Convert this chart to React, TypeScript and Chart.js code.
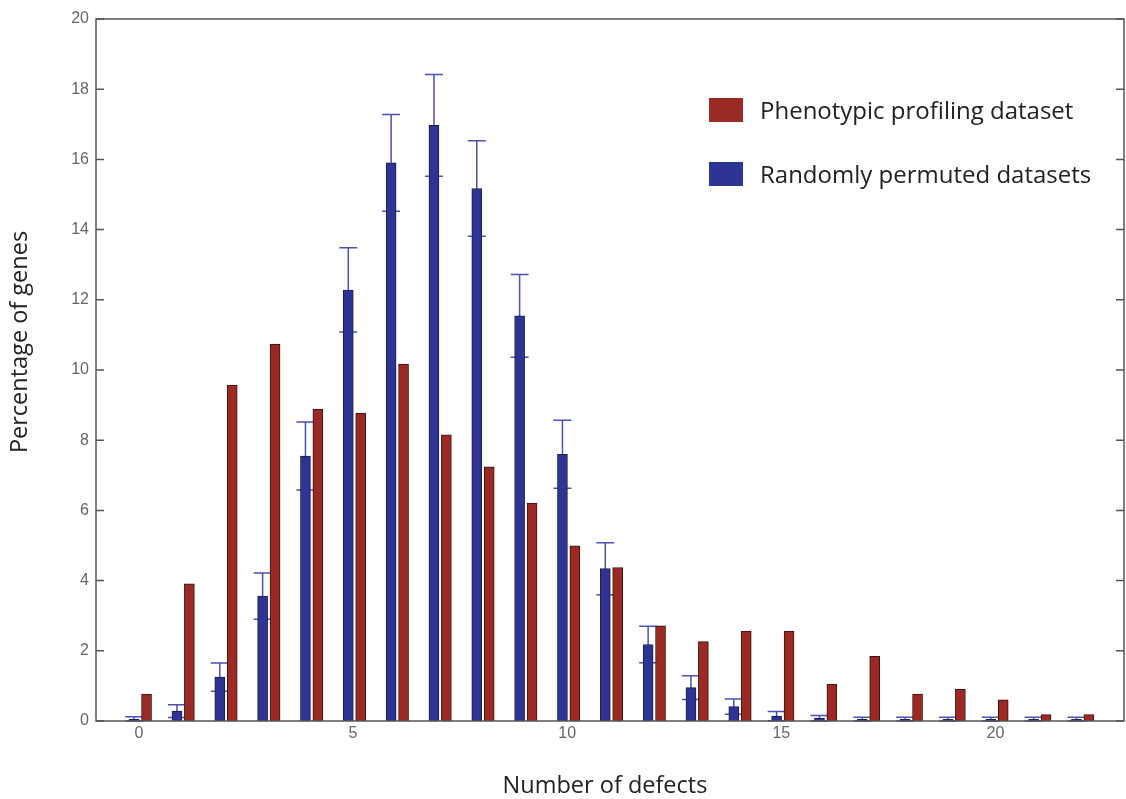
import React, { useEffect, useRef } from "react";
import { Chart, registerables } from "chart.js";

Chart.register(...registerables);

const defects = [0, 1, 2, 3, 4, 5, 6, 7, 8, 9, 10, 11, 12, 13, 14, 15, 16, 17, 18, 19, 20, 21, 22];
const phenotypic = [0.77, 3.91, 9.57, 10.74, 8.89, 8.77, 10.17, 8.15, 7.24, 6.21, 4.99, 4.37, 2.71, 2.26, 2.56, 2.56, 1.05, 1.84, 0.77, 0.91, 0.6, 0.18, 0.18];
const permuted = [0.05, 0.28, 1.25, 3.56, 7.55, 12.28, 15.9, 16.97, 15.17, 11.54, 7.6, 4.34, 2.18, 0.95, 0.41, 0.14, 0.08, 0.05, 0.05, 0.05, 0.05, 0.05, 0.05];
const permutedErr = [0.07, 0.18, 0.4, 0.66, 0.97, 1.2, 1.38, 1.45, 1.36, 1.18, 0.97, 0.74, 0.52, 0.34, 0.22, 0.13, 0.08, 0.06, 0.06, 0.06, 0.06, 0.06, 0.06];
const xTicks = [0, 5, 10, 15, 20];
const yTicks = [0, 2, 4, 6, 8, 10, 12, 14, 16, 18, 20];

const labels = {
  phenotypic: "Phenotypic profiling dataset",
  permuted: "Randomly permuted datasets",
  x: "Number of defects",
  y: "Percentage of genes",
};

const RED = "#9b2a24";
const BLUE = "#2e3494";
const ERR = "#4d52b4";
const AXIS = "#555555";
const BLUE_OFFSET = -0.11;
const RED_OFFSET = 0.18;
const TITLE_FONT = "23.5px 'Open Sans'";
const LEGEND_FONT = "24px 'Open Sans'";

const errorBarPlugin = {
  id: "errorBars",
  beforeDatasetsDraw(chart: any) {
    const { ctx, scales } = chart;
    const x = scales.x;
    const y = scales.y;
    ctx.save();
    ctx.strokeStyle = ERR;
    ctx.lineWidth = 1.5;
    defects.forEach((d, i) => {
      const px = x.getPixelForValue(d + BLUE_OFFSET);
      const top = y.getPixelForValue(permuted[i] + permutedErr[i]);
      const bot = y.getPixelForValue(Math.max(0, permuted[i] - permutedErr[i]));
      ctx.beginPath();
      ctx.moveTo(px, top);
      ctx.lineTo(px, bot);
      ctx.moveTo(px - 9, top);
      ctx.lineTo(px + 9, top);
      ctx.moveTo(px - 9, bot);
      ctx.lineTo(px + 9, bot);
      ctx.stroke();
    });
    ctx.restore();
  },
};

const framePlugin = {
  id: "frame",
  afterDatasetsDraw(chart: any) {
    const { ctx, chartArea, scales } = chart;
    const { left, top, right, bottom } = chartArea;
    ctx.save();
    ctx.strokeStyle = AXIS;
    ctx.lineWidth = 1.5;
    ctx.strokeRect(left, top, right - left, bottom - top);
    ctx.beginPath();
    yTicks.forEach((v) => {
      const py = scales.y.getPixelForValue(v);
      ctx.moveTo(left, py);
      ctx.lineTo(left + 8, py);
      ctx.moveTo(right, py);
      ctx.lineTo(right - 8, py);
    });
    ctx.stroke();
    ctx.restore();
  },
  afterDraw(chart: any) {
    const { ctx } = chart;
    ctx.save();
    ctx.fillStyle = "#222222";
    ctx.font = TITLE_FONT;
    ctx.textAlign = "center";
    ctx.textBaseline = "alphabetic";
    ctx.fillText(labels.x, 605, 793);
    ctx.save();
    ctx.translate(27, 342);
    ctx.rotate(-Math.PI / 2);
    ctx.fillText(labels.y, 0, 0);
    ctx.restore();

    // legend
    ctx.font = LEGEND_FONT;
    const items = [
      { text: labels.phenotypic, color: RED, y: 98 },
      { text: labels.permuted, color: BLUE, y: 162 },
    ];
    items.forEach((it) => {
      ctx.fillStyle = it.color;
      ctx.fillRect(709, it.y, 34, 24);
      ctx.fillStyle = "#222222";
      ctx.textAlign = "left";
      ctx.fillText(it.text, 760, it.y + 21);
    });
    ctx.restore();
  },
};

export default function App() {
  const ref = useRef<HTMLCanvasElement | null>(null);

  useEffect(() => {
    if (!ref.current) return;
    const chart = new Chart(ref.current, {
      type: "bar",
      data: {
        datasets: [
          {
            label: labels.permuted,
            data: defects.map((d, i) => ({ x: d + BLUE_OFFSET, y: permuted[i] })),
            backgroundColor: BLUE,
            borderColor: "#1b1d4a",
            borderWidth: 1,
          },
          {
            label: labels.phenotypic,
            data: defects.map((d, i) => ({ x: d + RED_OFFSET, y: phenotypic[i] })),
            backgroundColor: RED,
            borderColor: "#3a1210",
            borderWidth: 1,
          },
        ],
      },
      options: {
        responsive: false,
        animation: false,
        grouped: false,
        barPercentage: 1,
        categoryPercentage: 1,
        maxBarThickness: 10,
        layout: { padding: { left: 0, top: 19, right: 2, bottom: 0 } },
        plugins: { legend: { display: false }, tooltip: { enabled: false } },
        scales: {
          x: {
            type: "linear",
            min: -1,
            max: 23,
            offset: false,
            grid: { display: false, drawTicks: false, offset: false },
            border: { display: false },
            afterBuildTicks: (scale: any) => {
              scale.ticks = xTicks.map((v) => ({ value: v }));
            },
            afterFit: (scale: any) => {
              scale.height = 78;
            },
            ticks: {
              padding: 3,
              color: "#666666",
              font: { family: "'Liberation Sans'", size: 16 },
            },
          },
          y: {
            type: "linear",
            min: 0,
            max: 20,
            grid: { display: false, drawTicks: false },
            border: { display: false },
            afterBuildTicks: (scale: any) => {
              scale.ticks = yTicks.map((v) => ({ value: v }));
            },
            afterFit: (scale: any) => {
              scale.width = 96;
            },
            ticks: {
              padding: 7,
              color: "#666666",
              font: { family: "'Liberation Sans'", size: 16 },
            },
          },
        },
      } as any,
      plugins: [errorBarPlugin, framePlugin],
    });
    return () => chart.destroy();
  }, []);

  return (
    <div style={{ position: "absolute", left: 0, top: 0, width: 1126, height: 799, background: "#ffffff" }}>
      <canvas ref={ref} width={1126} height={799} style={{ display: "block" }} />
    </div>
  );
}
